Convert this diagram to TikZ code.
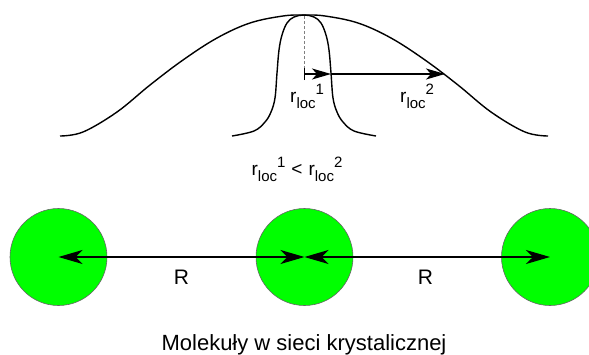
\documentclass[tikz,border=0pt]{standalone}
\usepackage{fontspec}
\setmainfont{Liberation Sans}
\usetikzlibrary{arrows.meta}
\newcommand{\rlocsym}[1]{r\raisebox{-6pt}{\fontsize{15}{15}\selectfont loc}\raisebox{8pt}{\fontsize{15}{15}\selectfont #1}}
\begin{document}
\begin{tikzpicture}[x=1pt,y=-1pt,
  curve/.style={line width=1.4pt, line join=round},
  molecule/.style={circle, fill=green, draw=black!60, line width=0.6pt, minimum size=97pt, inner sep=0pt},
  dist/.style={line width=1.3pt, {Stealth[length=24pt,width=14pt,inset=7pt]}-{Stealth[length=24pt,width=14pt,inset=7pt]}},
  rarrow/.style={line width=1.3pt},
  lbl/.style={font=\fontsize{19}{19}\selectfont, inner sep=0pt},
  rlbl/.style={font=\fontsize{21}{21}\selectfont, inner sep=0pt, anchor=base}
]
\useasboundingbox (0,0) rectangle (589,354);
\clip (0,0) rectangle (589,354);

% wide curve
\draw[curve] plot[smooth, tension=0.6] coordinates {(60,136) (83,132) (117,112) (150,85) (183,60) (217,38) (250,23) (283,16) (304,15) (325,16) (358,23) (391,38) (425,60) (458,85) (491,112) (525,132) (548,136)};
% narrow curve
\draw[curve] plot[smooth, tension=0.6] coordinates {(232,136) (254,131) (265,122) (271,112) (275,98) (277,73) (279,50) (282,35) (287,23) (294,17) (304,15) (314,17) (321,23) (326,35) (329,50) (331,73) (333,98) (337,112) (343,122) (354,131) (376,136)};

\coordinate (peak) at (304,16);
\coordinate (a0) at (304,74);
\coordinate (a1) at (331,74);
\coordinate (a2) at (445,74);

\draw[gray, line width=0.8pt, dash pattern=on 3pt off 2pt] (peak) -- (a0);
\draw[rarrow, {Bar[width=12pt]}-{Stealth[length=19pt,width=11pt,inset=5pt]}] (a0) -- (a1);
\draw[rarrow, -{Stealth[length=19pt,width=11pt,inset=5pt]}] (a1) -- (a2);

\node[lbl, anchor=base west] (l1) at (290,102) {\rlocsym{1}};
\node[lbl, anchor=base west] (l2) at (400,102) {\rlocsym{2}};
\node[lbl, anchor=base] (cmp) at (297,175) {\rlocsym{1}\hspace{6pt}<\hspace{6pt}\rlocsym{2}};

% molecules
\node[molecule] (m1) at (58.5,257) {};
\node[molecule] (m2) at (304.5,257) {};
\node[molecule] (m3) at (550,257) {};

\draw[dist] (m1.center) -- (m2.center);
\draw[dist] (m2.center) -- (m3.center);

\node[rlbl] (R1) at (181.5,284) {R};
\node[rlbl] (R2) at (425.5,284) {R};

\node[font=\fontsize{22}{22}\selectfont, inner sep=0pt, anchor=base] (cap) at (304,350) {Molekuły w sieci krystalicznej};
\end{tikzpicture}
\end{document}
